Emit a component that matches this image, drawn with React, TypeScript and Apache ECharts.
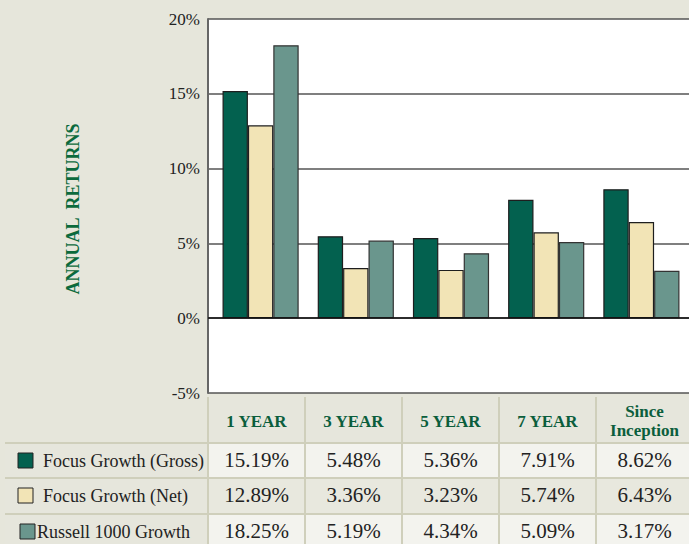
import React, { useEffect, useRef } from "react";
import * as echarts from "echarts";

const categories = ["1 YEAR", "3 YEAR", "5 YEAR", "7 YEAR", "Since\nInception"];
const seriesNames = ["Focus Growth (Gross)", "Focus Growth (Net)", "Russell 1000 Growth"];
const grossValues = [15.19, 5.48, 5.36, 7.91, 8.62];
const netValues = [12.89, 3.36, 3.23, 5.74, 6.43];
const russellValues = [18.25, 5.19, 4.34, 5.09, 3.17];
const yTicks = { min: -5, max: 20, interval: 5 };

const COLORS = ["#03614f", "#f2e4b6", "#6a968d"];
const SERIF = "'Liberation Serif', 'DejaVu Serif', serif";

export default function App() {
  const ref = useRef<HTMLDivElement>(null);
  useEffect(() => {
    if (!ref.current) return;
    const chart = echarts.init(ref.current, null, { renderer: "svg" });
    const gridLeft = 208;
    const gridTop = 19;
    const gridHeight = 374;
    const colW = 97;
    const gridWidth = colW * categories.length;
    const barLeft = 213;
    const barWidth = 480;
    const allValues = [grossValues, netValues, russellValues];

    const graphic: any[] = [];
    const headTop = 397;
    const headBot = 443;
    const rowTops = [443, 478, 514];
    const rowBots = [477, 513, 560];
    graphic.push({
      type: "rect",
      shape: { x: gridLeft, y: headTop, width: gridWidth, height: headBot - headTop },
      style: { fill: "#e6e6dc" },
      z: 1,
    });
    categories.forEach((c, i) => {
      const cx = gridLeft + colW * i + colW / 2;
      graphic.push({
        type: "text",
        x: cx,
        y: (headTop + headBot) / 2 + 1,
        style: {
          text: c,
          fill: "#0b5e3c",
          font: `bold 17px ${SERIF}`,
          align: "center",
          verticalAlign: "middle",
          lineHeight: 19,
        },
        z: 5,
      });
    });
    seriesNames.forEach((name, r) => {
      const top = rowTops[r];
      const bot = rowBots[r];
      const cellFill = r === 1 ? "#e8e8de" : "#f3f3ee";
      graphic.push({
        type: "rect",
        shape: { x: 5, y: top, width: gridLeft - 5, height: bot - top },
        style: { fill: "#e6e6dc" },
        z: 1,
      });
      graphic.push({
        type: "rect",
        shape: { x: gridLeft, y: top, width: gridWidth, height: bot - top },
        style: { fill: cellFill },
        z: 1,
      });
      const sqX = r === 2 ? 20 : 18;
      graphic.push({
        type: "rect",
        shape: { x: sqX, y: top + 10, width: 15, height: 15 },
        style: { fill: COLORS[r], stroke: "#222", lineWidth: 1 },
        z: 5,
      });
      graphic.push({
        type: "text",
        x: r === 2 ? 37 : 43,
        y: top + 18,
        style: {
          text: name,
          fill: "#222",
          font: `18px ${SERIF}`,
          align: "left",
          verticalAlign: "middle",
        },
        z: 5,
      });
      allValues[r].forEach((v, i) => {
        graphic.push({
          type: "text",
          x: gridLeft + colW * i + colW / 2,
          y: top + 17,
          style: {
            text: v.toFixed(2) + "%",
            fill: "#222",
            font: `21px ${SERIF}`,
            align: "center",
            verticalAlign: "middle",
          },
          z: 5,
        });
      });
      graphic.push({
        type: "line",
        shape: { x1: 5, y1: top, x2: gridLeft + gridWidth, y2: top },
        style: { stroke: "#cfcfbb", lineWidth: 2 },
        z: 3,
      });
    });
    for (let i = 0; i <= categories.length; i++) {
      const x = gridLeft + colW * i;
      graphic.push({
        type: "line",
        shape: { x1: x, y1: headTop, x2: x, y2: 544 },
        style: { stroke: "#cfcfbb", lineWidth: 2 },
        z: 3,
      });
    }
    graphic.push({
      type: "text",
      x: 73,
      y: 209,
      rotation: Math.PI / 2,
      style: {
        text: "ANNUAL  RETURNS",
        fill: "#0b6a3c",
        font: `bold 18px ${SERIF}`,
        align: "center",
        verticalAlign: "middle",
      },
      z: 5,
    });

    const mkSeries = (name: string, data: number[], idx: number) => ({
      name,
      type: "bar",
      xAxisIndex: 1,
      yAxisIndex: 1,
      data,
      barGap: "0%",
      barCategoryGap: "20%",
      itemStyle: {
        color: COLORS[idx],
        borderColor: idx === 2 ? "#333" : "#1e1e1e",
        borderWidth: 1.2,
      },
      z: 3,
    });

    chart.setOption({
      animation: false,
      backgroundColor: "#e6e6db",
      grid: [
        {
          left: gridLeft,
          top: gridTop,
          width: gridWidth,
          height: gridHeight,
          show: true,
          backgroundColor: "#ffffff",
          borderWidth: 0,
        },
        {
          left: barLeft,
          top: gridTop,
          width: barWidth,
          height: gridHeight,
          show: false,
        },
      ],
      xAxis: [
        {
          type: "category",
          gridIndex: 0,
          data: categories,
          axisLine: { show: false },
          axisTick: { show: false },
          axisLabel: { show: false },
          splitLine: { show: false },
        },
        {
          type: "category",
          gridIndex: 1,
          data: categories,
          axisLine: { show: false },
          axisTick: { show: false },
          axisLabel: { show: false },
          splitLine: { show: false },
        },
      ],
      yAxis: [
        {
          type: "value",
          gridIndex: 0,
          min: yTicks.min,
          max: yTicks.max,
          interval: yTicks.interval,
          axisLine: { show: true, lineStyle: { color: "#666", width: 2 } },
          axisTick: { show: false },
          axisLabel: {
            formatter: "{value}%",
            color: "#222",
            fontFamily: SERIF,
            fontSize: 17,
            margin: 8,
          },
          splitLine: { show: true, lineStyle: { color: "#555", width: 1.5 } },
        },
        {
          type: "value",
          gridIndex: 1,
          min: yTicks.min,
          max: yTicks.max,
          interval: yTicks.interval,
          show: false,
          splitLine: { show: false },
        },
      ],
      series: [
        mkSeries(seriesNames[0], grossValues, 0),
        mkSeries(seriesNames[1], netValues, 1),
        mkSeries(seriesNames[2], russellValues, 2),
        {
          type: "line",
          xAxisIndex: 0,
          yAxisIndex: 0,
          data: [],
          markLine: {
            silent: true,
            symbol: "none",
            label: { show: false },
            lineStyle: { color: "#111", width: 1.5, type: "solid" },
            data: [{ yAxis: 0 }],
          },
        },
      ],
      graphic,
    });
    return () => chart.dispose();
  }, []);
  return (
    <div
      ref={ref}
      style={{ position: "fixed", left: 0, top: 0, width: 689, height: 544 }}
    />
  );
}
